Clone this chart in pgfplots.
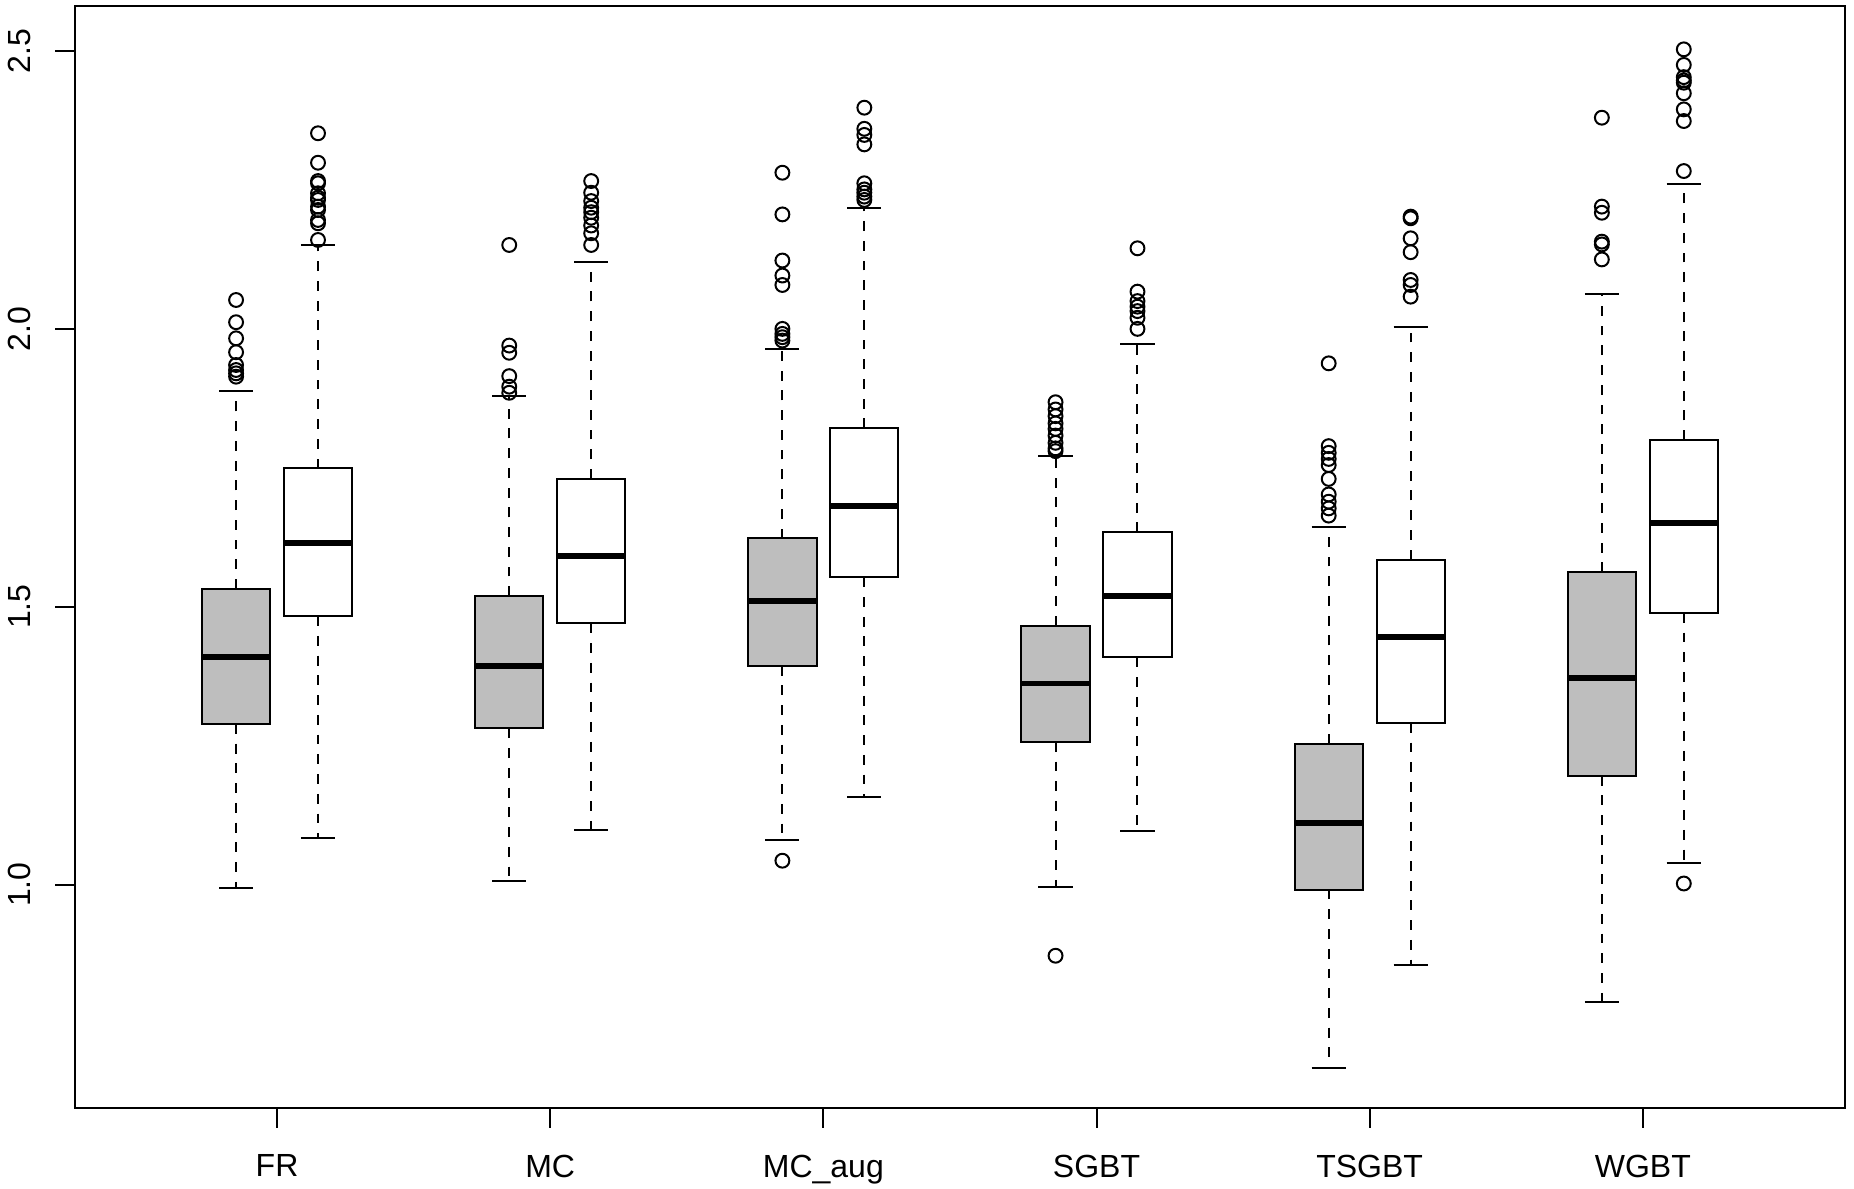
\documentclass[border=0pt]{standalone}
\usepackage{pgfplots}
\pgfplotsset{compat=1.18}
\usepgfplotslibrary{statistics}
\usepackage{fontspec}
\setmainfont{Liberation Sans}
\definecolor{rgray}{HTML}{BEBEBE}
\pgfplotsset{
  /pgfplots/boxplot/draw/lower whisker/.code={%
    \draw[black,line width=0.75pt,dash pattern=on 3.7pt off 3.7pt]
      (boxplot box cs:\pgfplotsboxplotvalue{lower quartile},0.5) --
      (boxplot box cs:\pgfplotsboxplotvalue{lower whisker},0.5);
    \draw[black,line width=0.75pt,solid]
      (boxplot whisker cs:\pgfplotsboxplotvalue{lower whisker},0) --
      (boxplot whisker cs:\pgfplotsboxplotvalue{lower whisker},1);
  },
  /pgfplots/boxplot/draw/upper whisker/.code={%
    \draw[black,line width=0.75pt,dash pattern=on 3.7pt off 3.7pt]
      (boxplot box cs:\pgfplotsboxplotvalue{upper quartile},0.5) --
      (boxplot box cs:\pgfplotsboxplotvalue{upper whisker},0.5);
    \draw[black,line width=0.75pt,solid]
      (boxplot whisker cs:\pgfplotsboxplotvalue{upper whisker},0) --
      (boxplot whisker cs:\pgfplotsboxplotvalue{upper whisker},1);
  },
  gbox/.style={black, line width=0.75pt, mark=o, mark size=2.6pt,
    mark options={solid,line width=0.75pt,fill=none},
    boxplot/draw direction=y,
    boxplot/every box/.style={fill=rgray,draw=black,line width=0.75pt},
    boxplot/every median/.style={line width=2.2pt},
    boxplot/box extend=0.25, boxplot/whisker extend=0.125},
  wbox/.style={black, line width=0.75pt, mark=o, mark size=2.6pt,
    mark options={solid,line width=0.75pt,fill=none},
    boxplot/draw direction=y,
    boxplot/every box/.style={fill=white,draw=black,line width=0.75pt},
    boxplot/every median/.style={line width=2.2pt},
    boxplot/box extend=0.25, boxplot/whisker extend=0.125},
}
\begin{document}
\begin{tikzpicture}
\useasboundingbox (-28.1pt,-30pt) rectangle (667.15pt,415.5pt);
\begin{axis}[
  scale only axis, width=663.75pt, height=413.25pt,
  at={(0,0)}, anchor=south west,
  xmin=-0.74, xmax=5.74, ymin=0.598, ymax=2.581,
  axis line style={line width=0.75pt},
  tick align=outside, major tick length=7.4pt,
  tick style={black,line width=0.75pt},
  xtick={0,1,2,3,4,5},
  xticklabels={FR,MC,MC\_aug,SGBT,TSGBT,WGBT},
  ytick={1,1.5,2,2.5},
  yticklabels={1.0,1.5,2.0,2.5},
  xtick pos=bottom, ytick pos=left,
  ticklabel style={font=\fontsize{12}{14}\selectfont},
  xticklabel style={anchor=north, inner sep=0pt, yshift=-10pt},
  yticklabel style={rotate=90, anchor=south, inner sep=0pt},
  yticklabel shift=9pt,
  clip=false,
]
% FR
\addplot[gbox, boxplot prepared={draw position=-0.15, lower whisker=0.994, lower quartile=1.289, median=1.409, upper quartile=1.532, upper whisker=1.888}]
 table[row sep=\\, y index=0] {data\\ 2.052\\ 2.012\\ 1.983\\ 1.958\\ 1.935\\ 1.926\\ 1.920\\ 1.914\\};
\addplot[wbox, boxplot prepared={draw position=0.15, lower whisker=1.083, lower quartile=1.483, median=1.615, upper quartile=1.749, upper whisker=2.151}]
 table[row sep=\\, y index=0] {data\\ 2.352\\ 2.299\\ 2.266\\ 2.262\\ 2.244\\ 2.236\\ 2.232\\ 2.220\\ 2.214\\ 2.196\\ 2.190\\ 2.160\\};
% MC
\addplot[gbox, boxplot prepared={draw position=0.85, lower whisker=1.006, lower quartile=1.281, median=1.394, upper quartile=1.519, upper whisker=1.879}]
 table[row sep=\\, y index=0] {data\\ 2.151\\ 1.970\\ 1.957\\ 1.915\\ 1.896\\ 1.885\\};
\addplot[wbox, boxplot prepared={draw position=1.15, lower whisker=1.098, lower quartile=1.470, median=1.591, upper quartile=1.730, upper whisker=2.121}]
 table[row sep=\\, y index=0] {data\\ 2.266\\ 2.245\\ 2.230\\ 2.218\\ 2.210\\ 2.200\\ 2.186\\ 2.172\\ 2.151\\};
% MC_aug
\addplot[gbox, boxplot prepared={draw position=1.85, lower whisker=1.081, lower quartile=1.394, median=1.511, upper quartile=1.623, upper whisker=1.964}]
 table[row sep=\\, y index=0] {data\\ 2.281\\ 2.206\\ 2.123\\ 2.096\\ 2.079\\ 2.000\\ 1.991\\ 1.985\\ 1.979\\ 1.043\\};
\addplot[wbox, boxplot prepared={draw position=2.15, lower whisker=1.157, lower quartile=1.553, median=1.681, upper quartile=1.821, upper whisker=2.217}]
 table[row sep=\\, y index=0] {data\\ 2.398\\ 2.360\\ 2.349\\ 2.332\\ 2.262\\ 2.251\\ 2.245\\ 2.238\\ 2.232\\};
% SGBT
\addplot[gbox, boxplot prepared={draw position=2.85, lower whisker=0.996, lower quartile=1.257, median=1.362, upper quartile=1.466, upper whisker=1.771}]
 table[row sep=\\, y index=0] {data\\ 1.868\\ 1.855\\ 1.843\\ 1.830\\ 1.820\\ 1.808\\ 1.795\\ 1.785\\ 1.780\\ 0.872\\};
\addplot[wbox, boxplot prepared={draw position=3.15, lower whisker=1.096, lower quartile=1.409, median=1.519, upper quartile=1.634, upper whisker=1.972}]
 table[row sep=\\, y index=0] {data\\ 2.145\\ 2.067\\ 2.050\\ 2.040\\ 2.032\\ 2.020\\ 2.000\\};
% TSGBT
\addplot[gbox, boxplot prepared={draw position=3.85, lower whisker=0.670, lower quartile=0.991, median=1.111, upper quartile=1.253, upper whisker=1.643}]
 table[row sep=\\, y index=0] {data\\ 1.938\\ 1.789\\ 1.777\\ 1.766\\ 1.755\\ 1.730\\ 1.702\\ 1.689\\ 1.677\\ 1.664\\};
\addplot[wbox, boxplot prepared={draw position=4.15, lower whisker=0.855, lower quartile=1.291, median=1.445, upper quartile=1.585, upper whisker=2.004}]
 table[row sep=\\, y index=0] {data\\ 2.202\\ 2.199\\ 2.163\\ 2.138\\ 2.088\\ 2.079\\ 2.058\\};
% WGBT
\addplot[gbox, boxplot prepared={draw position=4.85, lower whisker=0.789, lower quartile=1.196, median=1.372, upper quartile=1.562, upper whisker=2.062}]
 table[row sep=\\, y index=0] {data\\ 2.380\\ 2.220\\ 2.209\\ 2.157\\ 2.152\\ 2.125\\};
\addplot[wbox, boxplot prepared={draw position=5.15, lower whisker=1.038, lower quartile=1.489, median=1.651, upper quartile=1.800, upper whisker=2.260}]
 table[row sep=\\, y index=0] {data\\ 2.503\\ 2.475\\ 2.453\\ 2.447\\ 2.443\\ 2.424\\ 2.395\\ 2.374\\ 2.284\\ 1.002\\};
\end{axis}
\end{tikzpicture}
\end{document}
